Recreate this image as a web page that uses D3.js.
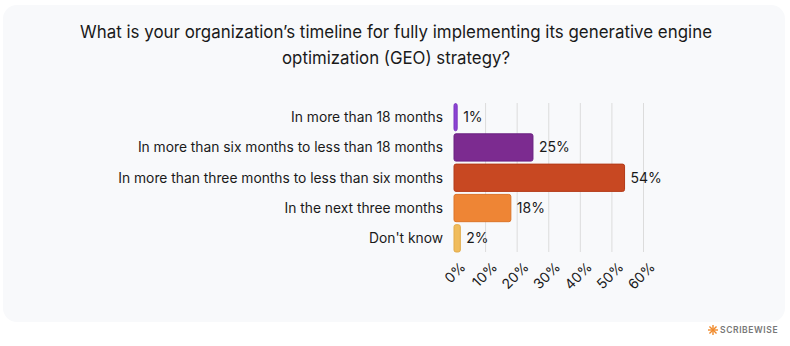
<!DOCTYPE html>
<html><head><meta charset="utf-8">
<script src="https://cdn.jsdelivr.net/npm/d3@7/dist/d3.min.js"></script>
<style>
html,body{margin:0;padding:0;background:#fff;}
svg{display:block;font-family:Inter,"Noto Sans",sans-serif;}
</style></head>
<body>
<svg id="chart" width="790" height="346"></svg>
<script>
const titleLines = ["What is your organization\u2019s timeline for fully implementing its generative engine", "optimization (GEO) strategy?"];
const categories = ["In more than 18 months", "In more than six months to less than 18 months", "In more than three months to less than six months", "In the next three months", "Don't know"];
const values = [1, 25, 54, 18, 2];
const colors = ["#8c43d4", "#7c2b90", "#c84822", "#ee8535", "#f0bc5c"];
const strokes = ["#7a35bf", "#6a2080", "#b33a18", "#dc7428", "#e2aa48"];
const tickValues = [0, 10, 20, 30, 40, 50, 60];

const svg = d3.select("#chart");
svg.append("rect").attr("x", 3).attr("y", 5).attr("width", 782).attr("height", 317)
  .attr("rx", 14).attr("fill", "#f8f9fb");

const titleWidths = [632, 228];
titleLines.forEach((t, i) => {
  svg.append("text").attr("x", 396).attr("y", 38 + i * 26)
    .attr("text-anchor", "middle").attr("font-size", 17.5).attr("fill", "#1a1a1a")
    .attr("textLength", titleWidths[i]).attr("lengthAdjust", "spacingAndGlyphs")
    .text(t);
});

const x = d3.scaleLinear().domain([0, 60]).range([454, 643.5]);
const y = d3.scaleBand().domain(categories).range([100.5, 255]).padding(0.1);

const grid = svg.append("g");
grid.selectAll("line").data(tickValues.slice(1)).join("line")
  .attr("x1", d => x(d)).attr("x2", d => x(d))
  .attr("y1", 103).attr("y2", 252)
  .attr("stroke", "#dcdcdc").attr("stroke-width", 1);

svg.append("g").selectAll("rect").data(values).join("rect")
  .attr("x", x(0))
  .attr("y", (d, i) => y(categories[i]))
  .attr("width", d => x(d) - x(0))
  .attr("height", y.bandwidth())
  .attr("rx", 2)
  .attr("fill", (d, i) => colors[i])
  .attr("stroke", (d, i) => strokes[i]).attr("stroke-width", 1);

svg.append("g").selectAll("text").data(values).join("text")
  .attr("x", d => x(d) + 6)
  .attr("y", (d, i) => y(categories[i]) + y.bandwidth() / 2)
  .attr("dy", "0.35em").attr("font-size", 14).attr("fill", "#1a1a1a")
  .text(d => d + "%");

svg.append("g").selectAll("text").data(categories).join("text")
  .attr("x", 443)
  .attr("y", d => y(d) + y.bandwidth() / 2)
  .attr("dy", "0.35em").attr("text-anchor", "end").attr("font-size", 13.8).attr("fill", "#1a1a1a")
  .text(d => d);

const xAxis = d3.axisBottom(x).tickValues(tickValues).tickFormat(d => d + "%").tickSize(0);
const ax = svg.append("g").attr("transform", "translate(0,261)").call(xAxis);
ax.select(".domain").remove();
ax.selectAll("text")
  .attr("font-size", 14).attr("fill", "#1a1a1a").attr("font-family", "Inter,'Noto Sans',sans-serif")
  .attr("text-anchor", "end").attr("dy", "0.71em").attr("y", 0)
  .attr("transform", "translate(5,0) rotate(-45)");

const logo = svg.append("g").attr("transform", "translate(713,330)");
[0, 45, 90, 135].forEach(a => {
  logo.append("line").attr("x1", -5).attr("x2", 5).attr("y1", 0).attr("y2", 0)
    .attr("stroke", "#f08a2c").attr("stroke-width", 1.4)
    .attr("transform", `rotate(${a})`);
});
svg.append("text").attr("x", 720).attr("y", 333).attr("font-size", 8.5)
  .attr("font-weight", 600).attr("fill", "#777").attr("letter-spacing", 0.6).text("SCRIBEWISE");
</script>
</body></html>
